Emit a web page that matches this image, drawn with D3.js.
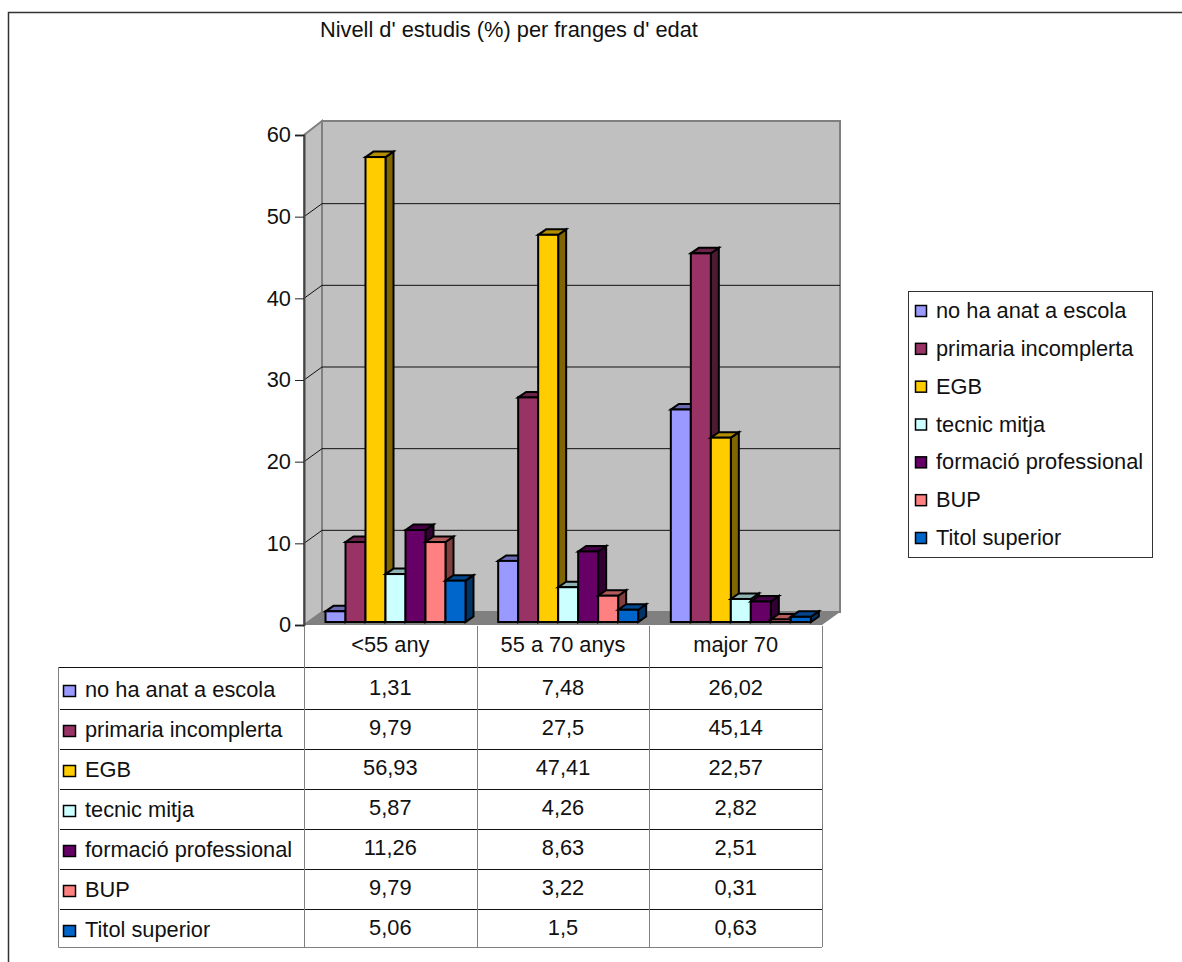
<!DOCTYPE html>
<html lang="ca">
<head>
<meta charset="utf-8">
<title>Nivell d' estudis</title>
<script src="https://cdn.jsdelivr.net/npm/d3@7"></script>
<style>
  html, body { margin: 0; padding: 0; background: #fff; }
  svg { display: block; }
  text { font-family: "Liberation Sans", Arial, sans-serif; font-size: 21.8px; fill: #111; }
</style>
</head>
<body>
<svg id="chart" width="1182" height="962"></svg>
<script>
const titleText = "Nivell d' estudis (%) per franges d' edat";
const ageGroups = ["<55 any", "55 a 70 anys", "major 70"];
const levels = ["no ha anat a escola", "primaria incomplerta", "EGB", "tecnic mitja", "formació professional", "BUP", "Titol superior"];
const levelColors = ["#9999ff", "#993366", "#ffcc00", "#ccffff", "#660066", "#ff8080", "#0066cc"];
const noEscola = [1.31, 7.48, 26.02];
const primaria = [9.79, 27.5, 45.14];
const egb = [56.93, 47.41, 22.57];
const tecnic = [5.87, 4.26, 2.82];
const formacio = [11.26, 8.63, 2.51];
const bup = [9.79, 3.22, 0.31];
const titol = [5.06, 1.5, 0.63];
const seriesValues = [noEscola, primaria, egb, tecnic, formacio, bup, titol];
const valueTicks = [0, 10, 20, 30, 40, 50, 60];

const svg = d3.select("#chart");
const asLabel = v => String(v).replace(".", ",");

// Plot box and the oblique offset of the back wall
const left = 304, right = 822, floorY = 625, topY = 135;
const wallDx = 18, wallDy = -13;
const barDx = 8, barDy = -5.5, barLift = 3;

const y = d3.scaleLinear().domain([0, 60]).range([floorY, topY]);
const xGroup = d3.scaleBand().domain(ageGroups).range([left, right]);
const xBar = d3.scaleBand().domain(levels).range([21.5, 161.5]);

// Outer frame, open at the right and the bottom
svg.append("path").attr("d", "M8.5,962V12.5H1182").attr("fill", "none").attr("stroke", "#333").attr("stroke-width", 1.5);

svg.append("text").attr("x", 320).attr("y", 37).text(titleText);

const pts = a => a.map(p => p.join(",")).join(" ");

// Walls and floor
const walls = svg.append("g");
walls.append("polygon")
  .attr("points", pts([[left, floorY], [left + wallDx, floorY + wallDy], [left + wallDx, topY + wallDy - 1], [left, topY]]))
  .attr("fill", "#c0c0c0").attr("stroke", "#808080").attr("stroke-width", 2);
walls.append("rect")
  .attr("x", left + wallDx).attr("y", topY + wallDy - 1)
  .attr("width", right - left).attr("height", floorY - topY + 1)
  .attr("fill", "#c0c0c0").attr("stroke", "#808080").attr("stroke-width", 2);
walls.append("polygon")
  .attr("points", pts([[left, floorY], [left + wallDx, floorY + wallDy], [right + wallDx, floorY + wallDy], [right, floorY]]))
  .attr("fill", "#808080");

// Gridlines run along the back wall and fold down the left wall
walls.selectAll("path.grid").data(valueTicks.filter(t => t > 0 && t < 60)).join("path")
  .attr("class", "grid").attr("fill", "none").attr("stroke", "#111").attr("stroke-width", 1)
  .attr("d", t => `M${left},${y(t)}L${left + wallDx},${y(t) + wallDy}H${right + wallDx}`);

// Value axis
const axis = svg.append("g").attr("transform", `translate(${left},0)`)
  .call(d3.axisLeft(y).tickValues(valueTicks).tickSize(9).tickPadding(4));
axis.select(".domain").attr("stroke", "#444").attr("stroke-width", 2);
axis.selectAll(".tick line").attr("stroke", "#222");
axis.selectAll(".tick text").style("font-size", "21.8px").style("font-family", '"Liberation Sans", Arial, sans-serif').attr("fill", "#111");

// Bars, painted left to right so each front face covers its neighbour's side
const shade = (c, k) => { const o = d3.rgb(c); return d3.rgb(o.r * k, o.g * k, o.b * k).formatHex(); };
const bars = svg.append("g").attr("stroke", "#000").attr("stroke-width", 2).attr("stroke-linejoin", "miter");
ageGroups.forEach((group, gi) => {
  levels.forEach((level, si) => {
    const v = seriesValues[si][gi];
    const color = levelColors[si];
    const x0 = xGroup(group) + xBar(level);
    const x1 = x0 + xBar.bandwidth();
    const yTop = y(v) - barLift;
    const yBase = y(0) - barLift;
    bars.append("polygon")
      .attr("points", pts([[x1, yTop], [x1 + barDx, yTop + barDy], [x1 + barDx, yBase + barDy], [x1, yBase]]))
      .attr("fill", shade(color, 0.5));
    bars.append("polygon")
      .attr("points", pts([[x0, yTop], [x0 + barDx, yTop + barDy], [x1 + barDx, yTop + barDy], [x1, yTop]]))
      .attr("fill", shade(color, 0.7));
    bars.append("rect")
      .attr("x", x0).attr("y", yTop).attr("width", x1 - x0).attr("height", yBase - yTop)
      .attr("fill", color);
  });
});

// Data table under the plot
const tableLeft = 58, headerTop = 626, rowsTop = 667, rowH = 40, tableBottom = 947;
const rowY = d3.scaleBand().domain(levels).range([rowsTop + 2, rowsTop + 2 + rowH * levels.length]);
const table = svg.append("g");
table.append("rect").attr("x", left).attr("y", headerTop).attr("width", right - left).attr("height", tableBottom - headerTop).attr("fill", "#fff");
table.append("path").attr("fill", "none").attr("stroke", "#111")
  .attr("d", `M${tableLeft},${rowsTop + 0.5}H${right}`);
table.selectAll("path.row").data(levels.slice(1)).join("path")
  .attr("class", "row").attr("fill", "none").attr("stroke", "#111")
  .attr("d", l => `M${tableLeft + 2},${rowY(l) + 0.5}H${right}`);
const colEdges = [left].concat(ageGroups.map(g => xGroup(g) + xGroup.bandwidth()));
table.selectAll("path.col").data(colEdges).join("path")
  .attr("class", "col").attr("fill", "none").attr("stroke", "#808080")
  .attr("d", cx => `M${Math.round(cx) + 0.5},${headerTop}V${tableBottom}`);
table.append("path").attr("fill", "none").attr("stroke", "#808080")
  .attr("d", `M${tableLeft + 0.5},${rowsTop}V${tableBottom + 0.5}H${right}`);

table.selectAll("text.head").data(ageGroups).join("text")
  .attr("class", "head").attr("text-anchor", "middle")
  .attr("x", g => xGroup(g) + xGroup.bandwidth() / 2).attr("y", 652).text(g => g);

levels.forEach((level, si) => {
  const ry = rowY(level);
  table.append("rect").attr("x", 63.5).attr("y", ry + 16.5).attr("width", 12).attr("height", 11)
    .attr("fill", levelColors[si]).attr("stroke", "#000").attr("stroke-width", 1.5);
  table.append("text").attr("x", 85).attr("y", ry + 28).text(level);
  ageGroups.forEach((group, gi) => {
    table.append("text").attr("text-anchor", "middle")
      .attr("x", xGroup(group) + xGroup.bandwidth() / 2).attr("y", ry + 26)
      .text(asLabel(seriesValues[si][gi]));
  });
});

// Legend box
const legendY = d3.scalePoint().domain(levels).range([311, 538]);
const legend = svg.append("g");
legend.append("rect").attr("x", 908.5).attr("y", 291.5).attr("width", 244).attr("height", 266)
  .attr("fill", "#fff").attr("stroke", "#333").attr("stroke-width", 1);
levels.forEach((level, si) => {
  const ly = legendY(level);
  legend.append("rect").attr("x", 915.5).attr("y", ly - 5.5).attr("width", 11).attr("height", 11)
    .attr("fill", levelColors[si]).attr("stroke", "#000").attr("stroke-width", 1.5);
  legend.append("text").attr("x", 936).attr("y", ly + 7).text(level);
});
</script>
</body>
</html>
